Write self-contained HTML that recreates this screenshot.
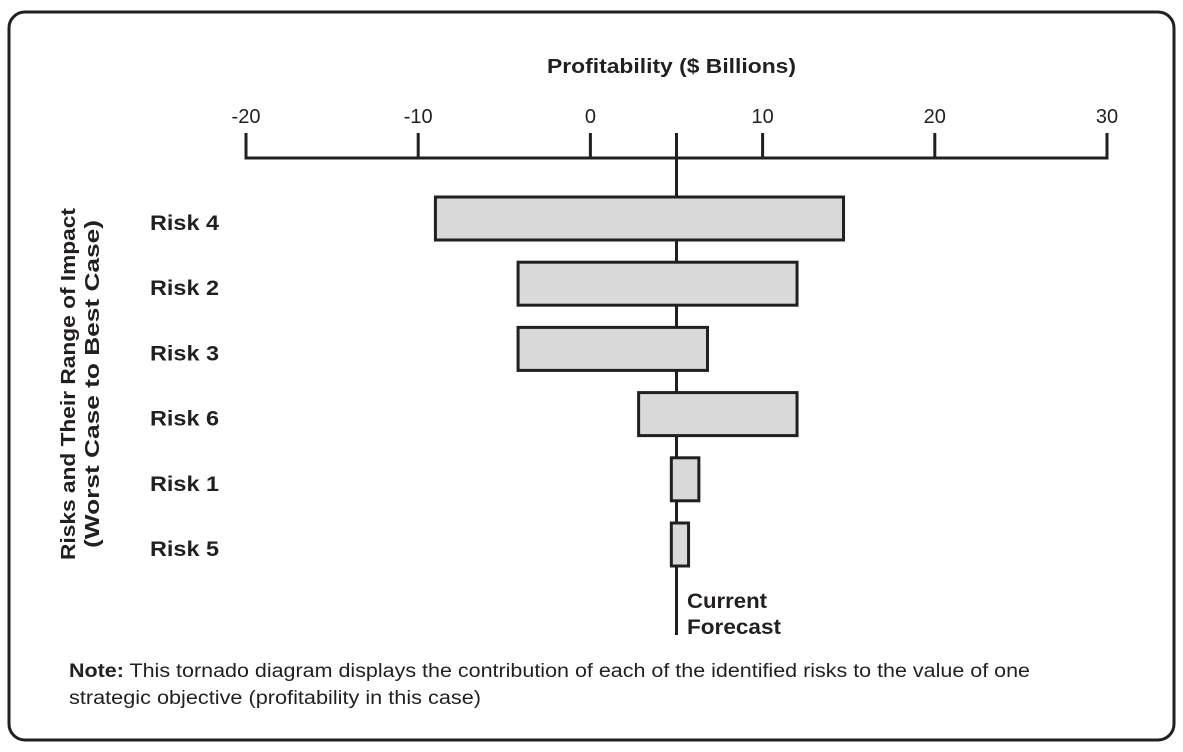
<!DOCTYPE html>
<html><head><meta charset="utf-8"><style>
body{margin:0;background:#fff;width:1183px;height:747px;overflow:hidden}
svg text{font-family:"Liberation Sans",sans-serif;fill:#231f20}
</style></head><body>
<svg width="1183" height="747" xmlns="http://www.w3.org/2000/svg" id="chart">
<rect x="9" y="12" width="1165" height="728" rx="16" fill="#fff" stroke="#231f20" stroke-width="3"/>
<text x="547" y="73" textLength="249" lengthAdjust="spacingAndGlyphs" font-size="20" font-weight="bold">Profitability ($ Billions)</text>
<g transform="translate(92,384) rotate(-90)">
<text x="-176" y="-17" textLength="352" lengthAdjust="spacingAndGlyphs" font-size="20" font-weight="bold">Risks and Their Range of Impact</text>
<text x="-164" y="7" textLength="328" lengthAdjust="spacingAndGlyphs" font-size="20" font-weight="bold">(Worst Case to Best Case)</text>
</g>
<g id="axis"></g>
<g id="bars"></g>
<text x="687" y="608" textLength="80" lengthAdjust="spacingAndGlyphs" font-size="21" font-weight="bold">Current</text>
<text x="687" y="634" textLength="94" lengthAdjust="spacingAndGlyphs" font-size="21" font-weight="bold">Forecast</text>
<text x="69" y="677" textLength="961" lengthAdjust="spacingAndGlyphs" font-size="19"><tspan font-weight="bold">Note:</tspan> This tornado diagram displays the contribution of each of the identified risks to the value of one</text>
<text x="69" y="704" textLength="412" lengthAdjust="spacingAndGlyphs" font-size="19">strategic objective (profitability in this case)</text>
</svg>
<script>
const categories=["Risk 4","Risk 2","Risk 3","Risk 6","Risk 1","Risk 5"];
const lowValues=[-9,-4.2,-4.2,2.8,4.7,4.7];
const highValues=[14.7,12,6.8,12,6.3,5.7];
const ticks=[-20,-10,0,10,20,30];
const forecast=5;
const NS="http://www.w3.org/2000/svg";
const x=v=>590.4+v*17.22;
const y=i=>197+i*65.2;
function mk(t,a,p){const e=document.createElementNS(NS,t);for(const k in a)e.setAttribute(k,a[k]);p.appendChild(e);return e;}
const ax=document.getElementById('axis'),bg=document.getElementById('bars');
const base=mk('line',{x1:x(-20)-1.5,x2:x(30)+1.5,y1:158,y2:158,stroke:'#231f20','stroke-width':3},ax);


ticks.forEach(t=>{
const l=mk('line',{x1:x(t),x2:x(t),y1:133,y2:158,stroke:'#231f20','stroke-width':3},ax);


const tx=mk('text',{x:x(t),y:123,'text-anchor':'middle','font-size':20},ax);tx.textContent=t;


});
const fl=mk('line',{x1:x(forecast),x2:x(forecast),y1:133,y2:635,stroke:'#231f20','stroke-width':3},bg);


categories.forEach((c,i)=>{
const r=mk('rect',{x:x(lowValues[i]),y:y(i),width:x(highValues[i])-x(lowValues[i]),height:43,fill:'#d9d9da',stroke:'#231f20','stroke-width':3},bg);


const t=mk('text',{x:150,y:y(i)+33,'font-size':21,'font-weight':'bold',textLength:69,lengthAdjust:'spacingAndGlyphs'},bg);t.textContent=c;


});
</script>
</body></html>
